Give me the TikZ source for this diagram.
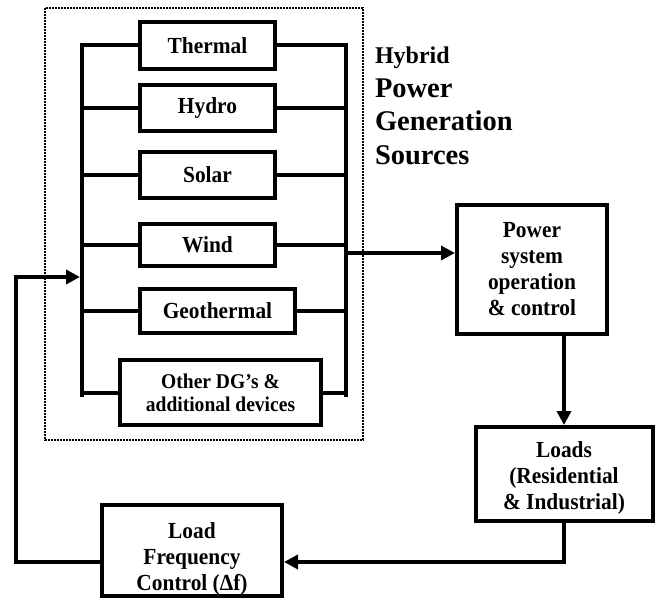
\documentclass[tikz,border=0pt]{standalone}
\usepackage{fontspec}
\setmainfont[FakeStretch=0.93]{Liberation Serif}
\newfontfamily\titlefont{Liberation Serif}
\usetikzlibrary{arrows.meta}

\begin{document}
\begin{tikzpicture}[x=1pt, y=-1pt, line width=4pt,
  font=\bfseries\fontsize{23}{26}\selectfont,
  box/.style={draw, align=center, inner sep=2pt},
  src/.style={box, minimum width=135pt, minimum height=46pt},
  arr/.style={-{Triangle[length=14pt,width=14pt]}},
  grp/.style={line width=1.6pt, dash pattern=on 1.6pt off 1.4pt}]
\useasboundingbox (0,0) rectangle (658,601);
% dotted frame round the sources
\draw[grp] (45,8) rectangle (363,440);
\node[anchor=north west, align=left, inner sep=0pt, font=\titlefont\bfseries\fontsize{28.5}{33.5}\selectfont] (title) at (373,45)
  {{\fontsize{24}{33.5}\selectfont Hybrid}\\Power\\Generation\\Sources};
% sources
\node[src, minimum height=47pt] (thermal) at (207.5,45.5) {Thermal};
\node[src] (hydro) at (207.5,108) {Hydro};
\node[src] (solar) at (207.5,175) {Solar};
\node[src, minimum height=42pt] (wind) at (207.5,245) {Wind};
\node[src, minimum width=155pt, minimum height=44pt] (geo) at (217.5,311) {Geothermal};
\node[box, font=\bfseries\fontsize{21}{23}\selectfont, minimum width=201pt, minimum height=65pt] (other) at (220.5,392.5)
  {Other DG’s \&\\additional devices};
% buses
\coordinate (lbus) at (82,397);
\coordinate (rbus) at (346,397);
\draw (thermal.west) -| (lbus);
\draw (thermal.east) -| (rbus);
\foreach \n in {hydro,solar,wind,geo,other}{
  \draw (\n.west) -- (\n.west -| lbus);
  \draw (\n.east) -- (\n.east -| rbus);
}
% plant and loads
\node[box, minimum width=150pt, minimum height=129pt] (power) at (532,269.5) {Power\\system\\operation\\\& control};
\node[box, minimum width=177pt, minimum height=94pt] (loads) at (564,474) {\rule{0pt}{24pt}Loads\\(Residential\\\& Industrial)};
\node[box, inner ysep=0pt, minimum width=180pt, minimum height=91pt] (lfc) at (192,550.5) {\rule{0pt}{32pt}Load\\Frequency\\Control (Δf)};
\coordinate (out) at (346,253);
\coordinate (fbin) at (82,277);
\draw[arr] (out) -- (out -| power.west);
\draw[arr] (loads.north |- power.south) -- (loads.north);
\draw[arr] (loads.south) |- ([yshift=-11.5pt]lfc.east);
\draw[arr, shorten >=2pt] ([yshift=-11.5pt]lfc.west) -- ++(-84,0) |- (fbin);
\end{tikzpicture}
\end{document}
